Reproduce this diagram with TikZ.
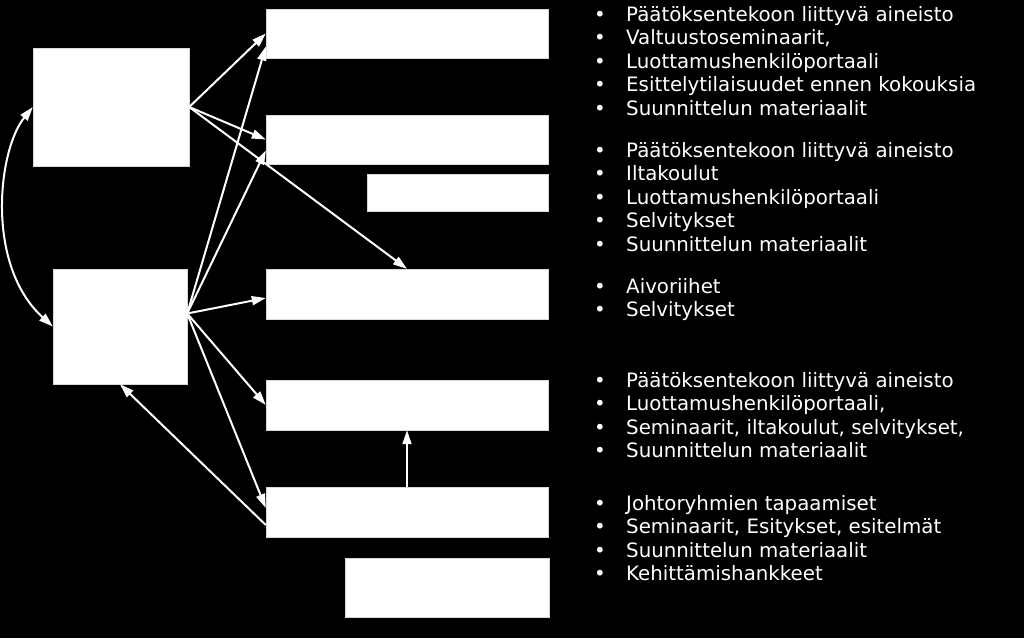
\documentclass[tikz,border=0pt]{standalone}
\usepackage{fontspec}
\usepackage{tikz}
\usetikzlibrary{arrows.meta}
\newfontfamily\listfont{DejaVu Sans}
\newcommand{\dotmark}{\makebox[32pt][l]{•}}
\tikzset{
  box/.style={draw=black!15, fill=white, inner sep=0pt},
  link/.style={draw=white, line width=2pt, -{Triangle[length=14pt,width=9pt]}},
  bullettext/.style={anchor=base west, text=white, inner sep=0pt, font=\listfont\fontsize{19.8}{23}\selectfont}
}

\begin{document}
\begin{tikzpicture}[x=1pt,y=-1pt]
  \fill[black] (0,0) rectangle (1024,638);
  \useasboundingbox (0,0) rectangle (1024,638);
  % boxes
  \node[box, minimum width=156pt, minimum height=118pt] (A) at (111,107) {};
  \node[box, minimum width=134pt, minimum height=115pt] (B) at (120,326.5) {};
  \node[box, minimum width=282pt, minimum height=49pt] (r1) at (407,33.5) {};
  \node[box, minimum width=282pt, minimum height=49pt] (r2) at (407,139.5) {};
  \node[box, minimum width=181pt, minimum height=37pt] (s1) at (457.5,192.5) {};
  \node[box, minimum width=282pt, minimum height=50pt] (r3) at (407,294) {};
  \node[box, minimum width=282pt, minimum height=50pt] (r4) at (407,405) {};
  \node[box, minimum width=282pt, minimum height=50pt] (r5) at (407,512) {};
  \node[box, minimum width=204pt, minimum height=59pt] (s2) at (447,587.5) {};
  \coordinate (Bout) at ([yshift=13pt]B.east);
  % arrows
  \draw[link, {Triangle[length=14pt,width=9pt]}-{Triangle[length=14pt,width=9pt]}]
    (A.west) .. controls (-2,150) and (-15,265) .. (B.west);
  \draw[link] (A.east) -- (r1.west);
  \draw[link] (A.east) -- (r2.west);
  \draw[link] (A.east) -- (r3.north);
  \draw[link] (Bout) -- ([yshift=-13pt]r1.west);
  \draw[link] (Bout) -- ([yshift=-11pt]r2.west);
  \draw[link] (Bout) -- ([yshift=-4pt]r3.west);
  \draw[link] (Bout) -- (r4.west);
  \draw[link] (Bout) -- ([yshift=4pt]r5.west);
  \draw[link] ([yshift=-13pt]r5.west) -- (B.south);
  \draw[link] (r5.north) -- (r4.south);
  % lists
  \foreach \txt [count=\i] in {Päätöksentekoon liittyvä aineisto, {Valtuustoseminaarit,},
      Luottamushenkilöportaali, Esittelytilaisuudet ennen kokouksia, Suunnittelun materiaalit}
    \node[bullettext] (g1-\i) at (594,{21+23.5*(\i-1)}) {\dotmark\txt};
  \foreach \txt [count=\i] in {Päätöksentekoon liittyvä aineisto, Iltakoulut,
      Luottamushenkilöportaali, Selvitykset, Suunnittelun materiaalit}
    \node[bullettext] (g2-\i) at (594,{157+23.5*(\i-1)}) {\dotmark\txt};
  \foreach \txt [count=\i] in {Aivoriihet, Selvitykset}
    \node[bullettext] (g3-\i) at (594,{293+23.5*(\i-1)}) {\dotmark\txt};
  \foreach \txt [count=\i] in {Päätöksentekoon liittyvä aineisto, {Luottamushenkilöportaali,},
      {Seminaarit, iltakoulut, selvitykset,}, Suunnittelun materiaalit}
    \node[bullettext] (g4-\i) at (594,{387+23.5*(\i-1)}) {\dotmark\txt};
  \foreach \txt [count=\i] in {Johtoryhmien tapaamiset, {Seminaarit, Esitykset, esitelmät},
      Suunnittelun materiaalit, Kehittämishankkeet}
    \node[bullettext] (g5-\i) at (594,{510+23.5*(\i-1)}) {\dotmark\txt};
\end{tikzpicture}
\end{document}
